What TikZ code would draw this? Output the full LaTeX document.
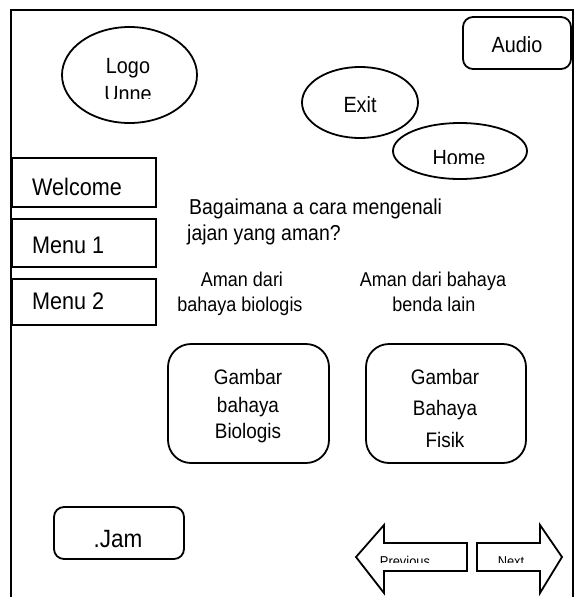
\documentclass[tikz,border=0pt]{standalone}
\usepackage{fontspec}
\setmainfont[FakeStretch=0.9]{Liberation Sans}
\usetikzlibrary{shapes.geometric}
\begin{document}
\begin{tikzpicture}[x=1pt,y=-1pt,
  outline/.style={draw=black, line width=1.8pt},
  oval/.style={outline, ellipse, inner sep=0pt},
  tab/.style={outline, rectangle, inner sep=0pt},
  rbox/.style={outline, rectangle, rounded corners=#1, inner sep=0pt},
  lbl/.style={anchor=base, inner sep=0pt, font=\fontsize{21}{25}\selectfont},
  lbll/.style={anchor=base west, inner sep=0pt, font=\fontsize{21}{25}\selectfont},
]
\useasboundingbox (0,0) rectangle (577,597);

% screen frame (open at the bottom)
\draw[line width=1.8pt] (11,597) -- (11,10) -- (573,10) -- (573,597);

% header items
\node[oval, minimum width=135pt, minimum height=96pt] (logo) at (129.5,75) {};
\node[lbl, font=\fontsize{22}{26}\selectfont] (logot) at (128,73) {Logo};
\begin{scope}
  \clip (60,60) rectangle (200,98);
  \node[lbl, font=\fontsize{22}{26}\selectfont] (unnes) at (128,101) {Unne};
\end{scope}

\node[rbox=10pt, minimum width=108pt, minimum height=52pt] (audio) at (517,43) {};
\node[lbl, font=\fontsize{22}{26}\selectfont] (audiot) at (517,52) {Audio};

\node[oval, minimum width=116pt, minimum height=71pt] (exit) at (360,102.5) {};
\node[lbl, font=\fontsize{22}{26}\selectfont] (exitt) at (360,112) {Exit};

\node[oval, minimum width=134pt, minimum height=56pt] (home) at (460,151) {};
\begin{scope}
  \clip (400,130) rectangle (520,163);
  \node[lbl, font=\fontsize{22}{26}\selectfont] (homet) at (459,165) {Home};
\end{scope}

% side menu
\node[tab, minimum width=144pt, minimum height=49pt] (welcome) at (84,182.5) {};
\node[lbll, font=\fontsize{24}{28}\selectfont] (welcomet) at (32,195) {Welcome};
\node[tab, minimum width=144pt, minimum height=48pt] (menu1) at (84,243) {};
\node[lbll, font=\fontsize{24}{28}\selectfont] (menu1t) at (32,253) {Menu 1};
\node[tab, minimum width=144pt, minimum height=46pt] (menu2) at (84,302) {};
\node[lbll, font=\fontsize{24}{28}\selectfont] (menu2t) at (32,309) {Menu 2};

% question and answers
\node[lbll, font=\fontsize{21.6}{26}\selectfont] (q1) at (189,214) {Bagaimana a cara mengenali};
\node[lbll, font=\fontsize{21.6}{26}\selectfont] (q2) at (187,240) {jajan yang aman?};

\node[lbl, font=\fontsize{20}{24}\selectfont] (a1) at (242,286) {Aman dari};
\node[lbl, font=\fontsize{20}{24}\selectfont] (a2) at (240,311) {bahaya biologis};
\node[lbl, font=\fontsize{20}{24}\selectfont] (b1) at (433,286) {Aman dari bahaya};
\node[lbl, font=\fontsize{20}{24}\selectfont] (b2) at (434,311) {benda lain};

% picture boxes
\node[rbox=23pt, minimum width=161pt, minimum height=119pt] (bio) at (248.5,403.5) {};
\node[lbl] (bio1) at (248,384) {Gambar};
\node[lbl] (bio2) at (248,412) {bahaya};
\node[lbl] (bio3) at (248,438) {Biologis};

\node[rbox=23pt, minimum width=160pt, minimum height=119pt] (fis) at (446,403.5) {};
\node[lbl] (fis1) at (445,384) {Gambar};
\node[lbl] (fis2) at (445,415) {Bahaya};
\node[lbl] (fis3) at (445,447) {Fisik};

% clock
\node[rbox=10pt, minimum width=130pt, minimum height=52pt] (jam) at (119,533) {};
\node[lbl, font=\fontsize{25}{30}\selectfont] (jamt) at (118,547) {.Jam};

% navigation arrows
\draw[outline, line join=miter] (356,557) -- (384,525) -- (384,543) -- (467,543)
  -- (467,571) -- (384,571) -- (384,593) -- cycle;
\draw[outline, line join=miter] (562,557) -- (540,525) -- (540,543) -- (477,543)
  -- (477,571) -- (540,571) -- (540,593) -- cycle;
\begin{scope}
  \clip (380,545) rectangle (540,562.5);
  \node[lbl, font=\fontsize{14.3}{17}\selectfont] (prevt) at (405,566) {Previous};
  \node[lbl, font=\fontsize{14.3}{17}\selectfont] (nextt) at (511,566) {Next};
\end{scope}
\end{tikzpicture}
\end{document}
